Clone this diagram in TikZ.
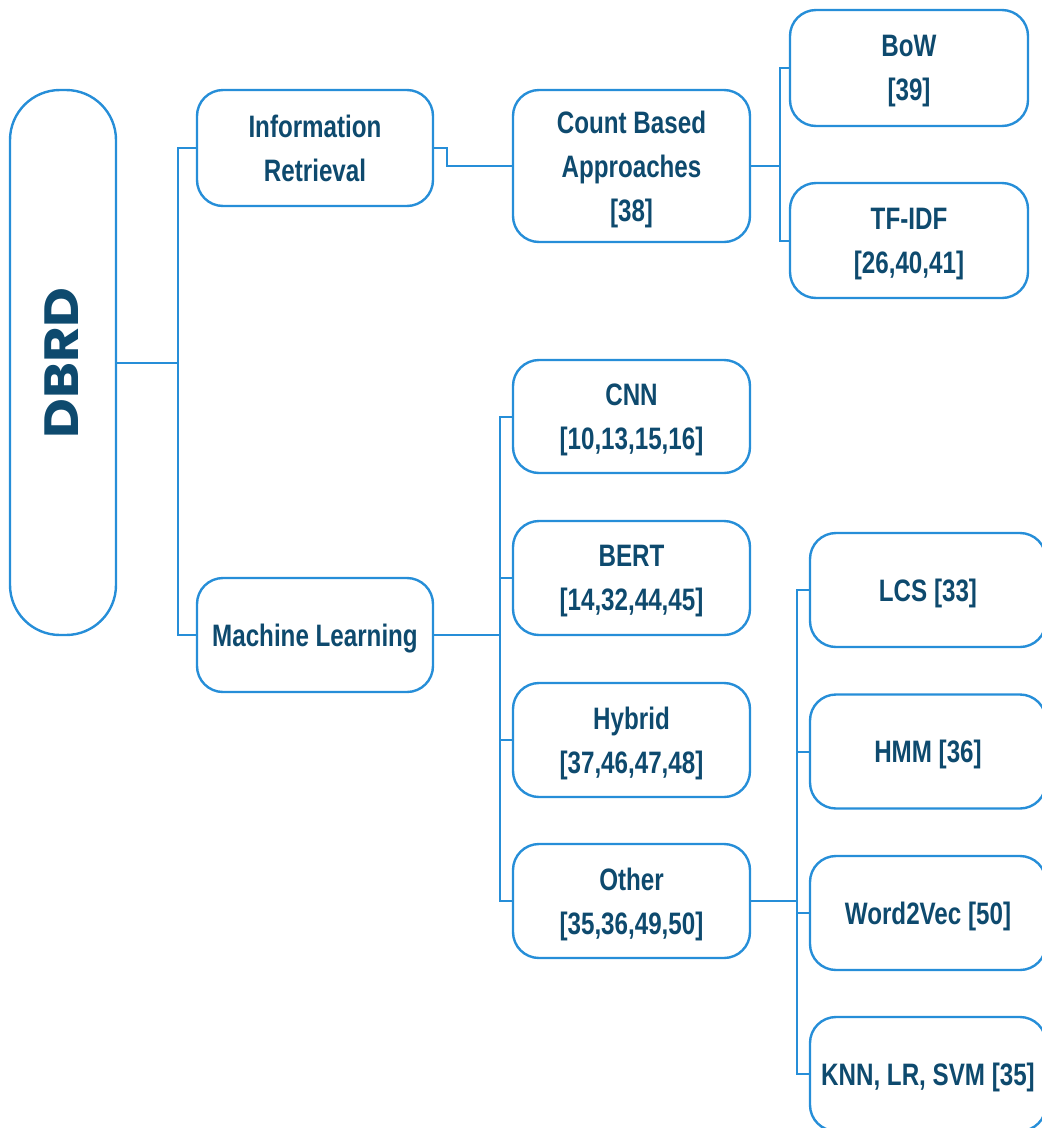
\documentclass[tikz,border=0pt]{standalone}
\usepackage{fontspec}
\setmainfont{Liberation Sans}[FakeStretch=0.78]
\newfontfamily\titlefont{Poppins}[FakeStretch=1.14]
\definecolor{edgeblue}{RGB}{38,142,216}
\definecolor{inkblue}{RGB}{14,74,110}
\begin{document}
\begin{tikzpicture}[x=1pt,y=-1pt,
  box/.style={draw=edgeblue,line width=2.4pt,rounded corners=26pt,fill=white,
    minimum width=237pt,minimum height=114pt,inner sep=0pt,align=center,
    text depth=0pt,text=inkblue,font=\fontsize{31}{44}\selectfont\bfseries},
  link/.style={draw=edgeblue,line width=2pt}]
\useasboundingbox (0,0) rectangle (1042,1128);
\clip (0,0) rectangle (1042,1128);

% root
\node[box,minimum width=106pt,minimum height=545pt,rounded corners=50pt] (dbrd) at (63,362.5) {};
\node[rotate=90,text=inkblue,font=\titlefont\fontsize{48}{48}\selectfont\bfseries] (dbrdlabel) at (62,363) {DBRD};

% first level
\node[box,minimum width=236pt,minimum height=116pt] (ir) at (315,148) {Information\\Retrieval};
\node[box,minimum width=236pt] (ml) at (315,635) {Machine Learning};

% information retrieval branch
\node[box,minimum height=152pt] (count) at (631.5,166) {Count Based\\Approaches\\{[38]}};
\node[box,minimum width=238pt,minimum height=116pt] (bow) at (909,68) {BoW\\{[39]}};
\node[box,minimum width=238pt,minimum height=115pt] (tfidf) at (909,240.5) {TF-IDF\\{[26,40,41]}};

% machine learning branch
\node[box,minimum height=113pt] (cnn) at (631.5,416.5) {CNN\\{[10,13,15,16]}};
\node[box] (bert) at (631.5,578) {BERT\\{[14,32,44,45]}};
\node[box] (hybrid) at (631.5,740) {Hybrid\\{[37,46,47,48]}};
\node[box] (other) at (631.5,901) {Other\\{[35,36,49,50]}};

% other methods
\node[box,minimum width=236pt] (lcs) at (928,590) {LCS [33]};
\node[box,minimum width=236pt] (hmm) at (928,751.5) {HMM [36]};
\node[box,minimum width=236pt] (w2v) at (928,913) {Word2Vec [50]};
\node[box,minimum width=236pt] (knn) at (928,1074) {KNN, LR, SVM [35]};

% junctions
\coordinate (j1) at (178,362.5);
\coordinate (j3) at (780,166);
\coordinate (j4) at (500,635);
\coordinate (j5) at (797,901);

% connectors
\draw[link] (dbrd.east) -- (j1);
\draw[link] (ir.west) -| (j1);
\draw[link] (ml.west) -| (j1);
\draw[link] (ir.east) -- ++(13,0) |- (count.west);
\draw[link] (count.east) -- (j3);
\draw[link] (bow.west) -| (j3);
\draw[link] (tfidf.west) -| (j3);
\draw[link] (ml.east) -- (j4);
\foreach \n in {cnn,bert,hybrid,other} \draw[link] (\n.west) -| (j4);
\draw[link] (other.east) -- (j5);
\foreach \n in {lcs,hmm,w2v,knn} \draw[link] (\n.west) -| (j5);
\end{tikzpicture}
\end{document}
